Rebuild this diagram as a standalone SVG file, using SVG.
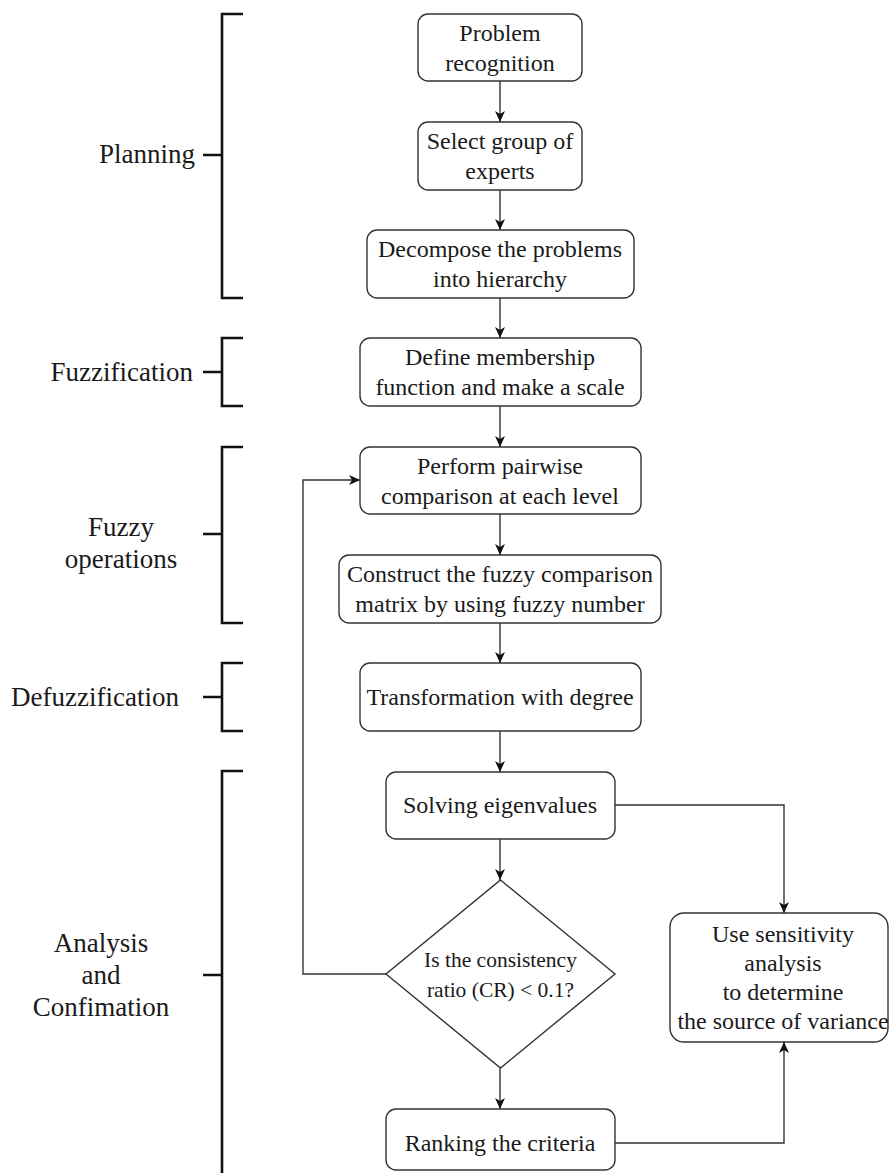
<svg xmlns="http://www.w3.org/2000/svg" width="890" height="1173" viewBox="0 0 890 1173">
  <style>
    .box { fill: #ffffff; stroke: #333333; stroke-width: 1.4; }
    .txt { font-family: "Liberation Serif", "Times New Roman", serif; font-size: 24px; fill: #1a1a1a; text-anchor: middle; }
    .dtxt { font-family: "Liberation Serif", "Times New Roman", serif; font-size: 21.5px; fill: #1a1a1a; text-anchor: middle; }
    .lbl { font-family: "Liberation Serif", "Times New Roman", serif; font-size: 27px; fill: #1a1a1a; }
    .brk { fill: none; stroke: #111111; stroke-width: 2.6; }
    .con { fill: none; stroke: #333333; stroke-width: 1.4; }
  </style>
  <defs>
    <marker id="arrow" markerUnits="userSpaceOnUse" markerWidth="12" markerHeight="12" viewBox="0 0 12 12" refX="11" refY="6" orient="auto">
      <path d="M0,1 L11,6 L0,11 L3,6 z" fill="#111111"/>
    </marker>
  </defs>

  <rect width="890" height="1173" fill="#ffffff"/>

  <!-- phase brackets -->
  <g id="phases">
    <g id="phase-planning">
      <path class="brk" d="M243,14 H222 V298 H243 M203,155 H222"/>
      <text class="lbl" x="195" y="163" text-anchor="end">Planning</text>
    </g>
    <g id="phase-fuzzification">
      <path class="brk" d="M243,338 H222 V406 H243 M203,372 H222"/>
      <text class="lbl" x="193" y="381" text-anchor="end">Fuzzification</text>
    </g>
    <g id="phase-fuzzy-operations">
      <path class="brk" d="M243,447 H222 V623 H243 M203,534 H222"/>
      <text class="lbl" x="121" y="536" text-anchor="middle">Fuzzy</text>
      <text class="lbl" x="121" y="568" text-anchor="middle">operations</text>
    </g>
    <g id="phase-defuzzification">
      <path class="brk" d="M243,663 H222 V731 H243 M203,697 H222"/>
      <text class="lbl" x="179" y="706" text-anchor="end">Defuzzification</text>
    </g>
    <g id="phase-analysis">
      <path class="brk" d="M243,771 H222 V1180 M203,975 H222"/>
      <text class="lbl" x="101" y="952" text-anchor="middle">Analysis</text>
      <text class="lbl" x="101" y="984" text-anchor="middle">and</text>
      <text class="lbl" x="101" y="1016" text-anchor="middle">Confimation</text>
    </g>
  </g>

  <!-- connectors -->
  <g id="connectors">
    <path class="con" d="M500,81 V122" marker-end="url(#arrow)"/>
    <path class="con" d="M500,190 V230" marker-end="url(#arrow)"/>
    <path class="con" d="M500,298 V338" marker-end="url(#arrow)"/>
    <path class="con" d="M500,406 V447" marker-end="url(#arrow)"/>
    <path class="con" d="M500,514 V555" marker-end="url(#arrow)"/>
    <path class="con" d="M500,623 V663" marker-end="url(#arrow)"/>
    <path class="con" d="M500,731 V772" marker-end="url(#arrow)"/>
    <path class="con" d="M500,839 V880" marker-end="url(#arrow)"/>
    <path class="con" d="M500,1068 V1109" marker-end="url(#arrow)"/>
    <path class="con" d="M386,974 H303 V480 H360" marker-end="url(#arrow)"/>
    <path class="con" d="M615,805 H784 V913" marker-end="url(#arrow)"/>
    <path class="con" d="M615,1143 H784 V1042" marker-end="url(#arrow)"/>
  </g>

  <!-- process steps -->
  <g id="n-problem">
    <rect class="box" x="418" y="14" width="164" height="67" rx="10"/>
    <text class="txt" x="500" y="41">Problem</text>
    <text class="txt" x="500" y="71">recognition</text>
  </g>
  <g id="n-experts">
    <rect class="box" x="418" y="122" width="164" height="68" rx="10"/>
    <text class="txt" x="500" y="149">Select group of</text>
    <text class="txt" x="500" y="179">experts</text>
  </g>
  <g id="n-decompose">
    <rect class="box" x="367" y="230" width="267" height="68" rx="10"/>
    <text class="txt" x="500" y="257">Decompose the problems</text>
    <text class="txt" x="500" y="287">into hierarchy</text>
  </g>
  <g id="n-membership">
    <rect class="box" x="360" y="338" width="281" height="68" rx="10"/>
    <text class="txt" x="500" y="365">Define membership</text>
    <text class="txt" x="500" y="395">function and make a scale</text>
  </g>
  <g id="n-pairwise">
    <rect class="box" x="360" y="447" width="281" height="67" rx="10"/>
    <text class="txt" x="500" y="474">Perform pairwise</text>
    <text class="txt" x="500" y="504">comparison at each level</text>
  </g>
  <g id="n-matrix">
    <rect class="box" x="339" y="555" width="322" height="68" rx="10"/>
    <text class="txt" x="500" y="582">Construct the fuzzy comparison</text>
    <text class="txt" x="500" y="612">matrix by using fuzzy number</text>
  </g>
  <g id="n-transform">
    <rect class="box" x="360" y="663" width="281" height="68" rx="10"/>
    <text class="txt" x="500" y="705">Transformation with degree</text>
  </g>
  <g id="n-eigen">
    <rect class="box" x="386" y="772" width="229" height="67" rx="10"/>
    <text class="txt" x="500" y="813">Solving eigenvalues</text>
  </g>
  <g id="n-consistency">
    <polygon class="box" points="500.5,880 615,974 500.5,1068 386,974"/>
    <text class="dtxt" x="500.5" y="967">Is the consistency</text>
    <text class="dtxt" x="500.5" y="997">ratio (CR) &lt; 0.1?</text>
  </g>
  <g id="n-ranking">
    <rect class="box" x="386" y="1109" width="229" height="61" rx="10"/>
    <text class="txt" x="500" y="1151">Ranking the criteria</text>
  </g>
  <g id="n-sensitivity">
    <rect class="box" x="670" y="913" width="218" height="129" rx="14"/>
    <text class="txt" x="783" y="942">Use sensitivity</text>
    <text class="txt" x="783" y="971">analysis</text>
    <text class="txt" x="783" y="1000">to determine</text>
    <text class="txt" x="783" y="1029">the source of variance</text>
  </g>
</svg>
